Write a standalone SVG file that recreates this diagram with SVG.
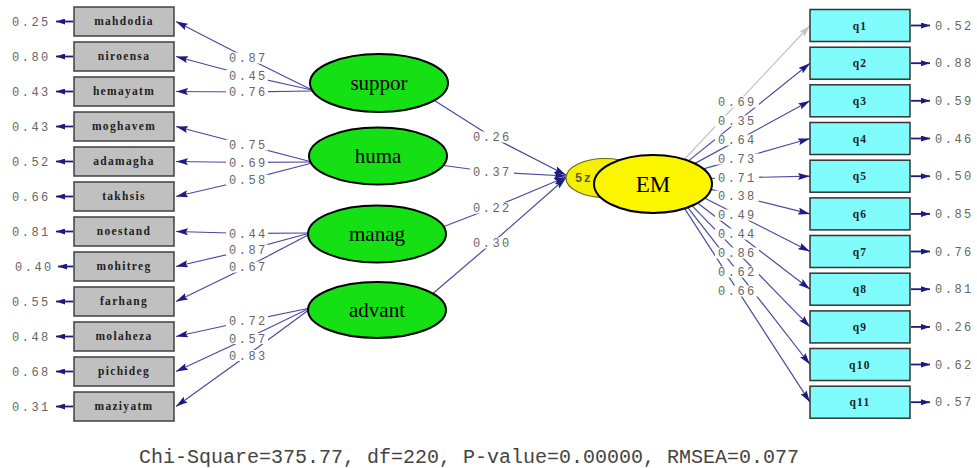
<svg xmlns="http://www.w3.org/2000/svg" width="977" height="468" viewBox="0 0 977 468">
<style>
.ln{fill:none;stroke:#4a4aa0;stroke-width:1.2}
.lg{fill:none;stroke:#c4c4c4;stroke-width:1.2}
.er{fill:none;stroke:#1c1c80;stroke-width:1.8}
.num{font-family:"Liberation Mono","DejaVu Sans Mono",monospace;font-size:12px;letter-spacing:2.5px;fill:#666}
.bg{fill:#fff}
.obs{fill:#c0c0c0;stroke:#404040;stroke-width:1.5}
.obq{fill:#80fcfc;stroke:#333;stroke-width:1.5}
.bt{font-family:"Liberation Serif","Times New Roman",serif;font-size:11.5px;font-weight:bold;letter-spacing:1.3px;fill:#222;text-anchor:middle}
.lat{fill:#14e014;stroke:#000;stroke-width:2}
.lt{font-family:"Liberation Serif","Times New Roman",serif;font-size:21px;fill:#000;text-anchor:middle}
.foot{font-family:"Liberation Mono","Courier New",monospace;font-size:20px;fill:#444}
</style>
<defs>
<marker id="ah" viewBox="0 0 12 7" refX="12" refY="3.5" markerWidth="12" markerHeight="7" markerUnits="userSpaceOnUse" orient="auto"><path d="M0,0 L12,3.5 L0,7 L2,3.5 z" fill="#1c1c80"/></marker>
<marker id="ahg" viewBox="0 0 12 7" refX="12" refY="3.5" markerWidth="12" markerHeight="7" markerUnits="userSpaceOnUse" orient="auto"><path d="M0,0 L12,3.5 L0,7 L2,3.5 z" fill="#c4c4c4"/></marker>
<marker id="eh" viewBox="0 0 9 6" refX="9" refY="3" markerWidth="9" markerHeight="6" markerUnits="userSpaceOnUse" orient="auto"><path d="M0,0 L9,3 L0,6 z" fill="#1c1c80"/></marker>
</defs>
<rect width="977" height="468" fill="#fff"/>
<g id="connectors">
<polyline class="ln" marker-end="url(#ah)" points="312,90 247,58 176,21.5"/>
<polyline class="ln" marker-end="url(#ah)" points="312,90 247,75.5 176,56.5"/>
<polyline class="ln" marker-end="url(#ah)" points="312,91 247,92 176,91.5"/>
<polyline class="ln" marker-end="url(#ah)" points="312,162 247,145 176,126.5"/>
<polyline class="ln" marker-end="url(#ah)" points="312,162 247,162.5 176,161.5"/>
<polyline class="ln" marker-end="url(#ah)" points="312,163 247,180 176,196.5"/>
<polyline class="ln" marker-end="url(#ah)" points="310,233 247,233.5 176,231.5"/>
<polyline class="ln" marker-end="url(#ah)" points="310,233 247,250 176,266.5"/>
<polyline class="ln" marker-end="url(#ah)" points="310,234 247,267 176,301.5"/>
<polyline class="ln" marker-end="url(#ah)" points="310,308 247,321 176,336.5"/>
<polyline class="ln" marker-end="url(#ah)" points="310,308 247,338.5 176,371.5"/>
<polyline class="ln" marker-end="url(#ah)" points="310,309 247,355.5 176,406.5"/>
<polyline class="ln" marker-end="url(#ah)" points="432,99 492,137 566,175"/>
<polyline class="ln" marker-end="url(#ah)" points="440,165 492,172 566,176"/>
<polyline class="ln" marker-end="url(#ah)" points="440,228 492,208 566,177"/>
<polyline class="ln" marker-end="url(#ah)" points="430,296 492,243 566,178"/>
<line class="lg" marker-end="url(#ahg)" x1="680" y1="164" x2="810" y2="25.5"/>
<line class="ln" marker-end="url(#ah)" x1="685" y1="163.6" x2="810" y2="63.2"/>
<line class="ln" marker-end="url(#ah)" x1="690" y1="166.1" x2="810" y2="100.8"/>
<line class="ln" marker-end="url(#ah)" x1="700" y1="169.8" x2="810" y2="138.5"/>
<line class="ln" marker-end="url(#ah)" x1="705" y1="178.5" x2="810" y2="176.2"/>
<line class="ln" marker-end="url(#ah)" x1="705" y1="187.8" x2="810" y2="213.9"/>
<line class="ln" marker-end="url(#ah)" x1="700" y1="195.7" x2="810" y2="251.5"/>
<line class="ln" marker-end="url(#ah)" x1="695" y1="201" x2="810" y2="289.2"/>
<line class="ln" marker-end="url(#ah)" x1="690" y1="203.7" x2="810" y2="326.9"/>
<line class="ln" marker-end="url(#ah)" x1="685" y1="203.9" x2="810" y2="364.5"/>
<line class="ln" marker-end="url(#ah)" x1="680" y1="201.4" x2="810" y2="402.2"/>
<g class="er" marker-end="url(#eh)">
<line x1="73" y1="21.5" x2="56" y2="21.5"/>
<line x1="73" y1="56.5" x2="56" y2="56.5"/>
<line x1="73" y1="91.5" x2="56" y2="91.5"/>
<line x1="73" y1="126.5" x2="56" y2="126.5"/>
<line x1="73" y1="161.5" x2="56" y2="161.5"/>
<line x1="73" y1="196.5" x2="56" y2="196.5"/>
<line x1="73" y1="231.5" x2="56" y2="231.5"/>
<line x1="73" y1="266.5" x2="58" y2="266.5"/>
<line x1="73" y1="301.5" x2="56" y2="301.5"/>
<line x1="73" y1="336.5" x2="56" y2="336.5"/>
<line x1="73" y1="371.5" x2="56" y2="371.5"/>
<line x1="73" y1="406.5" x2="56" y2="406.5"/>
</g>
<g class="er" marker-end="url(#eh)">
<line x1="911" y1="25.5" x2="930" y2="25.5"/>
<line x1="911" y1="63.2" x2="930" y2="63.2"/>
<line x1="911" y1="100.8" x2="930" y2="100.8"/>
<line x1="911" y1="138.5" x2="930" y2="138.5"/>
<line x1="911" y1="176.2" x2="930" y2="176.2"/>
<line x1="911" y1="213.9" x2="930" y2="213.9"/>
<line x1="911" y1="251.5" x2="930" y2="251.5"/>
<line x1="911" y1="289.2" x2="930" y2="289.2"/>
<line x1="911" y1="326.9" x2="930" y2="326.9"/>
<line x1="911" y1="364.5" x2="930" y2="364.5"/>
<line x1="911" y1="402.2" x2="930" y2="402.2"/>
</g>
<g class="bg">
<rect x="226" y="52.5" width="42" height="11"/>
<rect x="226" y="70" width="42" height="11"/>
<rect x="226" y="86.5" width="42" height="11"/>
<rect x="226" y="139.5" width="42" height="11"/>
<rect x="226" y="157" width="42" height="11"/>
<rect x="226" y="174.5" width="42" height="11"/>
<rect x="226" y="228" width="42" height="11"/>
<rect x="226" y="244.5" width="42" height="11"/>
<rect x="226" y="261.5" width="42" height="11"/>
<rect x="226" y="315.5" width="42" height="11"/>
<rect x="226" y="333" width="42" height="11"/>
<rect x="226" y="350" width="42" height="11"/>
<rect x="470" y="131.5" width="44" height="11"/>
<rect x="470" y="166.5" width="44" height="11"/>
<rect x="470" y="202.5" width="44" height="11"/>
<rect x="470" y="237.5" width="44" height="11"/>
<rect x="715" y="96.5" width="44" height="11"/>
<rect x="715" y="115.5" width="44" height="11"/>
<rect x="715" y="134.5" width="44" height="11"/>
<rect x="715" y="153.5" width="44" height="11"/>
<rect x="715" y="172.5" width="44" height="11"/>
<rect x="715" y="190.5" width="44" height="11"/>
<rect x="715" y="209.5" width="44" height="11"/>
<rect x="715" y="228.5" width="44" height="11"/>
<rect x="715" y="247.5" width="44" height="11"/>
<rect x="715" y="266.5" width="44" height="11"/>
<rect x="715" y="285.5" width="44" height="11"/>
</g>
<g class="num">
<text x="229" y="62">0.87</text>
<text x="229" y="79.5">0.45</text>
<text x="229" y="96">0.76</text>
<text x="229" y="149">0.75</text>
<text x="229" y="166.5">0.69</text>
<text x="229" y="184">0.58</text>
<text x="229" y="237.5">0.44</text>
<text x="229" y="254">0.87</text>
<text x="229" y="271">0.67</text>
<text x="229" y="325">0.72</text>
<text x="229" y="342.5">0.57</text>
<text x="229" y="359.5">0.83</text>
<text x="473" y="141">0.26</text>
<text x="473" y="176">0.37</text>
<text x="473" y="212">0.22</text>
<text x="473" y="247">0.30</text>
<text x="718" y="106">0.69</text>
<text x="718" y="125">0.35</text>
<text x="718" y="144">0.64</text>
<text x="718" y="163">0.73</text>
<text x="718" y="182">0.71</text>
<text x="718" y="200">0.38</text>
<text x="718" y="219">0.49</text>
<text x="718" y="238">0.44</text>
<text x="718" y="257">0.86</text>
<text x="718" y="276">0.62</text>
<text x="718" y="295">0.66</text>
<text x="12" y="25.5">0.25</text>
<text x="12" y="60.5">0.80</text>
<text x="12" y="95.5">0.43</text>
<text x="12" y="130.5">0.43</text>
<text x="12" y="165.5">0.52</text>
<text x="12" y="200.5">0.66</text>
<text x="12" y="235.5">0.81</text>
<text x="15" y="270.5">0.40</text>
<text x="12" y="305.5">0.55</text>
<text x="12" y="340.5">0.48</text>
<text x="12" y="375.5">0.68</text>
<text x="12" y="410.5">0.31</text>
<text x="935" y="29.5">0.52</text>
<text x="935" y="67.2">0.88</text>
<text x="935" y="104.8">0.59</text>
<text x="935" y="142.5">0.46</text>
<text x="935" y="180.2">0.50</text>
<text x="935" y="217.9">0.85</text>
<text x="935" y="255.5">0.76</text>
<text x="935" y="293.2">0.81</text>
<text x="935" y="330.9">0.26</text>
<text x="935" y="368.5">0.62</text>
<text x="935" y="406.2">0.57</text>
</g>
</g>
<g id="mahdodia"><rect class="obs" x="74" y="7" width="100" height="29"/><text class="bt" x="124" y="25">mahdodia</text></g>
<g id="niroensa"><rect class="obs" x="74" y="42" width="100" height="29"/><text class="bt" x="124" y="60">niroensa</text></g>
<g id="hemayatm"><rect class="obs" x="74" y="77" width="100" height="29"/><text class="bt" x="124" y="95">hemayatm</text></g>
<g id="moghavem"><rect class="obs" x="74" y="112" width="100" height="29"/><text class="bt" x="124" y="130">moghavem</text></g>
<g id="adamagha"><rect class="obs" x="74" y="147" width="100" height="29"/><text class="bt" x="124" y="165">adamagha</text></g>
<g id="takhsis"><rect class="obs" x="74" y="182" width="100" height="29"/><text class="bt" x="124" y="200">takhsis</text></g>
<g id="noestand"><rect class="obs" x="74" y="217" width="100" height="29"/><text class="bt" x="124" y="235">noestand</text></g>
<g id="mohitreg"><rect class="obs" x="74" y="252" width="100" height="29"/><text class="bt" x="124" y="270">mohitreg</text></g>
<g id="farhang"><rect class="obs" x="74" y="287" width="100" height="29"/><text class="bt" x="124" y="305">farhang</text></g>
<g id="molaheza"><rect class="obs" x="74" y="322" width="100" height="29"/><text class="bt" x="124" y="340">molaheza</text></g>
<g id="pichideg"><rect class="obs" x="74" y="357" width="100" height="29"/><text class="bt" x="124" y="375">pichideg</text></g>
<g id="maziyatm"><rect class="obs" x="74" y="392" width="100" height="29"/><text class="bt" x="124" y="410">maziyatm</text></g>
<g id="suppor"><ellipse class="lat" cx="379" cy="83" rx="69" ry="29"/><text class="lt" x="379" y="90">suppor</text></g>
<g id="huma"><ellipse class="lat" cx="378" cy="156" rx="69" ry="28.5"/><text class="lt" x="378" y="163">huma</text></g>
<g id="manag"><ellipse class="lat" cx="377" cy="234" rx="69" ry="28.5"/><text class="lt" x="377" y="241">manag</text></g>
<g id="advant"><ellipse class="lat" cx="377" cy="310" rx="69" ry="28"/><text class="lt" x="377" y="317">advant</text></g>
<g id="z5"><ellipse cx="605" cy="178" rx="39" ry="19.5" fill="#f5ef00" stroke="#6a6a20" stroke-width="1.2"/><text x="575" y="182" font-family="Liberation Mono, monospace" font-size="12" font-weight="bold" letter-spacing="1.5" fill="#555">5z</text></g>
<g id="EM"><ellipse cx="653" cy="184" rx="59" ry="29" fill="#fbf500" stroke="#000" stroke-width="2"/><text x="653" y="192" font-family="Liberation Serif, serif" font-size="23" text-anchor="middle" fill="#000">EM</text></g>
<g id="q1"><rect class="obq" x="810" y="9.5" width="100" height="32"/><text class="bt" x="860" y="29.5">q1</text></g>
<g id="q2"><rect class="obq" x="810" y="47.2" width="100" height="32"/><text class="bt" x="860" y="67.2">q2</text></g>
<g id="q3"><rect class="obq" x="810" y="84.8" width="100" height="32"/><text class="bt" x="860" y="104.8">q3</text></g>
<g id="q4"><rect class="obq" x="810" y="122.5" width="100" height="32"/><text class="bt" x="860" y="142.5">q4</text></g>
<g id="q5"><rect class="obq" x="810" y="160.2" width="100" height="32"/><text class="bt" x="860" y="180.2">q5</text></g>
<g id="q6"><rect class="obq" x="810" y="197.9" width="100" height="32"/><text class="bt" x="860" y="217.9">q6</text></g>
<g id="q7"><rect class="obq" x="810" y="235.5" width="100" height="32"/><text class="bt" x="860" y="255.5">q7</text></g>
<g id="q8"><rect class="obq" x="810" y="273.2" width="100" height="32"/><text class="bt" x="860" y="293.2">q8</text></g>
<g id="q9"><rect class="obq" x="810" y="310.9" width="100" height="32"/><text class="bt" x="860" y="330.9">q9</text></g>
<g id="q10"><rect class="obq" x="810" y="348.5" width="100" height="32"/><text class="bt" x="860" y="368.5">q10</text></g>
<g id="q11"><rect class="obq" x="810" y="386.2" width="100" height="32"/><text class="bt" x="860" y="406.2">q11</text></g>
<text class="foot" x="139" y="463">Chi-Square=375.77, df=220, P-value=0.00000, RMSEA=0.077</text>
</svg>
